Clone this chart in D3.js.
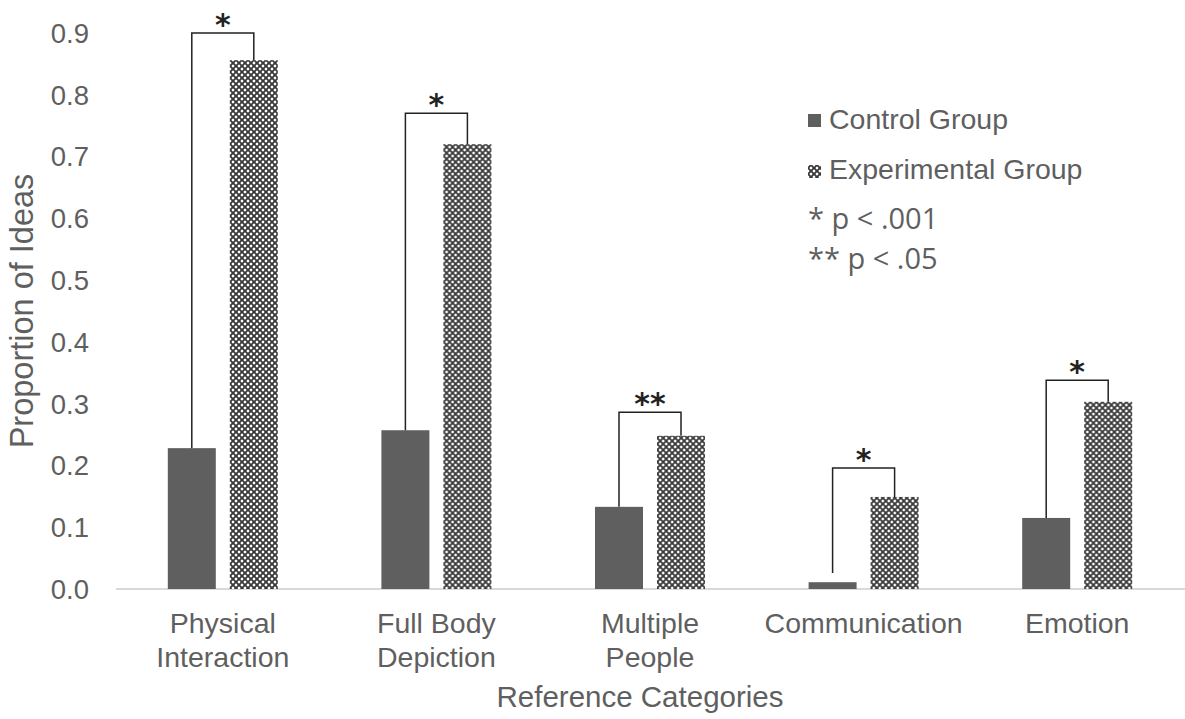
<!DOCTYPE html>
<html>
<head>
<meta charset="utf-8">
<script src="https://cdn.jsdelivr.net/npm/d3@7"></script>
<style>
  body { margin: 0; background: #fff; }
  svg { display: block; }
</style>
</head>
<body>
<svg width="1185" height="719"></svg>
<script>
var categories = [["Physical", "Interaction"], ["Full Body", "Depiction"], ["Multiple", "People"], ["Communication"], ["Emotion"]];
var series = ["Control Group", "Experimental Group"];
var control = [0.228, 0.257, 0.133, 0.011, 0.115];
var experimental = [0.856, 0.72, 0.248, 0.149, 0.303];
var bracketTop = [0.9, 0.77, 0.286, 0.196, 0.338];
var bracketLow = [0.228, 0.257, 0.133, 0.026, 0.115];
var sigLabels = ["*", "*", "**", "*", "*"];
var yTicks = [0, 0.1, 0.2, 0.3, 0.4, 0.5, 0.6, 0.7, 0.8, 0.9];
var notes = ["* p < .001", "** p < .05"];

var svg = d3.select("svg");
var grey = "#5f5f5f";
var font = "'Liberation Sans', Arial, sans-serif";

// pattern for the experimental bars
var defs = svg.append("defs");
var pat = defs.append("pattern")
  .attr("id", "diamond")
  .attr("patternUnits", "userSpaceOnUse")
  .attr("width", 6)
  .attr("height", 6);
pat.append("rect").attr("width", 6).attr("height", 6).attr("fill", "#b8b8b8");
pat.append("path")
  .attr("d", "M0,0L6,6M6,0L0,6")
  .attr("stroke", "#3a3a3a")
  .attr("stroke-width", 1.8);
[[3, 0], [0, 3], [6, 3], [3, 6]].forEach(function(p) {
  pat.append("circle").attr("cx", p[0]).attr("cy", p[1]).attr("r", 1.2).attr("fill", "#fff");
});

var x0 = d3.scaleBand().domain(d3.range(categories.length)).range([116, 1184]);
var bw = x0.bandwidth();
var x1 = d3.scaleBand().domain(series).range([bw / 2 - 55, bw / 2 + 55]).paddingInner(0.226);
var y = d3.scaleLinear().domain([0, 0.9]).range([589, 33]);

// y tick labels
svg.append("g").selectAll("text")
  .data(yTicks)
  .join("text")
  .attr("x", 89)
  .attr("y", function(d) { return y(d); })
  .attr("dy", "0.36em")
  .attr("text-anchor", "end")
  .attr("font-family", font)
  .attr("font-size", 27.5)
  .attr("fill", grey)
  .text(d3.format(".1f"));

// baseline
svg.append("line")
  .attr("x1", 116).attr("x2", 1185)
  .attr("y1", y(0)).attr("y2", y(0))
  .attr("stroke", "#d9d9d9")
  .attr("stroke-width", 2);

var groups = svg.append("g").selectAll("g")
  .data(categories.map(function(c, i) { return i; }))
  .join("g")
  .attr("transform", function(i) { return "translate(" + x0(i) + ",0)"; });

groups.append("rect")
  .attr("x", x1(series[0]))
  .attr("width", x1.bandwidth())
  .attr("y", function(i) { return y(control[i]); })
  .attr("height", function(i) { return y(0) - y(control[i]); })
  .attr("fill", grey);

groups.append("rect")
  .attr("x", x1(series[1]))
  .attr("width", x1.bandwidth())
  .attr("y", function(i) { return y(experimental[i]); })
  .attr("height", function(i) { return y(0) - y(experimental[i]); })
  .attr("fill", "url(#diamond)");

// significance brackets
var cx0 = x1(series[0]) + x1.bandwidth() / 2;
var cx1 = x1(series[1]) + x1.bandwidth() / 2;
groups.append("path")
  .attr("d", function(i) {
    return "M" + cx0 + "," + y(bracketLow[i]) + "V" + y(bracketTop[i]) +
      "H" + cx1 + "V" + y(experimental[i]);
  })
  .attr("fill", "none")
  .attr("stroke", "#222")
  .attr("stroke-width", 1.5);

groups.append("text")
  .attr("x", (cx0 + cx1) / 2)
  .attr("y", function(i) { return y(bracketTop[i]) + 2; })
  .attr("text-anchor", "middle")
  .attr("font-family", "'DejaVu Sans', sans-serif")
  .attr("font-weight", "bold")
  .attr("font-size", 30)
  .attr("fill", "#222")
  .text(function(i) { return sigLabels[i]; });

// category labels
groups.append("text")
  .attr("x", bw / 2)
  .attr("y", 633)
  .attr("text-anchor", "middle")
  .attr("font-family", font)
  .attr("font-size", 28.5)
  .attr("fill", grey)
  .selectAll("tspan")
  .data(function(i) { return categories[i]; })
  .join("tspan")
  .attr("x", bw / 2)
  .attr("dy", function(d, j) { return j === 0 ? 0 : 34; })
  .text(function(d) { return d; });

// axis titles
svg.append("text")
  .attr("x", 640)
  .attr("y", 707)
  .attr("text-anchor", "middle")
  .attr("font-family", font)
  .attr("font-size", 29.5)
  .attr("fill", grey)
  .text("Reference Categories");

svg.append("text")
  .attr("transform", "translate(33,311) rotate(-90)")
  .attr("text-anchor", "middle")
  .attr("font-family", font)
  .attr("font-size", 32.5)
  .attr("fill", grey)
  .text("Proportion of Ideas");

// legend
var legend = svg.append("g").attr("transform", "translate(808,0)");
legend.append("rect").attr("x", 0).attr("y", 114).attr("width", 13).attr("height", 13).attr("fill", grey);
legend.append("rect").attr("x", 0).attr("y", 165).attr("width", 13).attr("height", 13).attr("fill", "url(#diamond)");
legend.selectAll("text.series")
  .data(series)
  .join("text")
  .attr("class", "series")
  .attr("x", 21)
  .attr("y", function(d, i) { return 129 + i * 50; })
  .attr("font-family", font)
  .attr("font-size", 28.5)
  .attr("fill", grey)
  .text(function(d) { return d; });
legend.selectAll("text.note")
  .data(notes)
  .join("text")
  .attr("class", "note")
  .attr("x", 0)
  .attr("y", function(d, i) { return 229 + i * 40; })
  .attr("font-family", "'Open Sans', sans-serif")
  .attr("font-size", 29)
  .attr("fill", grey)
  .text(function(d) { return d; });
</script>
</body>
</html>
